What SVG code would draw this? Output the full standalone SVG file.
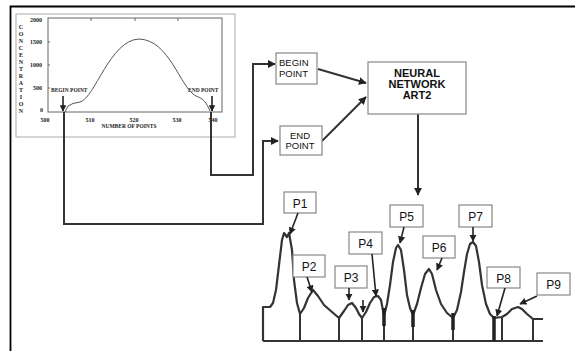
<svg xmlns="http://www.w3.org/2000/svg" width="575" height="351" viewBox="0 0 575 351">
<style>
.box{fill:#fff;stroke:#888;stroke-width:1.2}
.lbl{font-family:"Liberation Sans",Arial,sans-serif;fill:#111}
.ch{font-family:"Liberation Serif","Times New Roman",serif;font-weight:bold;fill:#222}
.con{fill:none;stroke:#333;stroke-width:2}
.pa{fill:none;stroke:#222;stroke-width:1.6}
.curve{fill:none;stroke:#333;stroke-width:2.2;stroke-linejoin:round}
</style>
<defs>
<marker id="ah" viewBox="0 0 10 10" refX="9" refY="5" markerWidth="4" markerHeight="4" orient="auto" markerUnits="strokeWidth">
<path d="M0,0 L10,5 L0,10 z" fill="#222"/>
</marker>
<marker id="ahs" viewBox="0 0 10 10" refX="9" refY="5" markerWidth="4.5" markerHeight="4.5" orient="auto" markerUnits="strokeWidth">
<path d="M0,0 L10,5 L0,10 z" fill="#222"/>
</marker>
</defs>
<rect width="575" height="351" fill="#fff"/>
<path d="M10.5,351 V6.5 H575" fill="none" stroke="#000" stroke-width="1.8"/>

<g id="chart">
<rect x="16" y="14" width="219" height="123" fill="none" stroke="#aaa" stroke-width="1"/>
<rect x="48" y="18" width="174" height="94" fill="none" stroke="#666" stroke-width="1"/>
<path d="M91,18v3M135,18v3M178,18v3M48,42h2M48,65h2M48,88h2" stroke="#666" stroke-width="1"/>
<g class="ch" font-size="6" text-anchor="end">
<text x="42" y="22">2000</text>
<text x="42" y="44">1500</text>
<text x="42" y="67">1000</text>
<text x="42" y="90">500</text>
<text x="43" y="112">0</text>
</g>
<g class="ch" font-size="6" text-anchor="middle">
<text x="21" y="29">C</text><text x="21" y="36">O</text><text x="21" y="43">N</text><text x="21" y="50">C</text><text x="21" y="57">E</text><text x="21" y="64">N</text><text x="21" y="71">T</text><text x="21" y="78">R</text><text x="21" y="85">A</text><text x="21" y="92">T</text><text x="21" y="99">I</text><text x="21" y="106">O</text><text x="21" y="113">N</text>
<text x="45" y="122">500</text>
<text x="90" y="122">510</text>
<text x="134" y="122">520</text>
<text x="177" y="122">530</text>
<text x="213" y="122">540</text>
<text x="129" y="128" font-size="5.5">NUMBER OF POINTS</text>
</g>
<text class="ch" x="51" y="92" font-size="5.5">BEGIN POINT</text>
<text class="ch" x="188" y="92" font-size="5.5">END POINT</text>
<path d="M63,96 V111" class="pa" marker-end="url(#ah)" stroke-width="1.2"/>
<path d="M212,96 V111" class="pa" marker-end="url(#ah)" stroke-width="1.2"/>
<path d="M65,112 L68,106 Q72,103 80,102 C95,98 110,40 139,39 C170,40 180,88 196,96 C204,99 206,102 210,111" fill="none" stroke="#555" stroke-width="1"/>
</g>

<g id="connectors">
<path class="con" d="M64,112 V224 H263 V141 H278" marker-end="url(#ah)"/>
<path class="con" d="M211,112 V175 H253 V64 H275" marker-end="url(#ah)"/>
<path class="con" d="M318,69 L366,83" marker-end="url(#ah)"/>
<path class="con" d="M322,141 L366,97" marker-end="url(#ah)"/>
<path class="con" d="M418,114 V195" marker-end="url(#ah)"/>
</g>

<g id="begin-point">
<rect class="box" x="276" y="53" width="41" height="31"/>
<text class="lbl" x="279" y="66" font-size="9.5">BEGIN</text>
<text class="lbl" x="279" y="77" font-size="9.5">POINT</text>
</g>
<g id="end-point">
<rect class="box" x="280" y="126" width="42" height="29"/>
<text class="lbl" x="300" y="139" font-size="9.5" text-anchor="middle">END</text>
<text class="lbl" x="300" y="149" font-size="9.5" text-anchor="middle">POINT</text>
</g>
<g id="neural-network">
<rect class="box" x="368" y="62" width="98" height="52"/>
<g class="lbl" font-size="11" font-weight="bold" text-anchor="middle">
<text x="417" y="77">NEURAL</text>
<text x="417" y="88">NETWORK</text>
<text x="417" y="99">ART2</text>
</g>
</g>

<g id="peaks-graph">
<path class="curve" d="M263,341 V307 H270 L273,303 L276,290 L279,265 L282,240 L284,233 L287,237 L289,233 L292,250 L294,280 L297,303 L300,314 L304,308 L308,298 L313,290 L318,296 L324,305 L332,312 L339,318 L344,311 L348,305 L352,303 L356,308 L359,314 L362,318 L366,312 L370,303 L374,297 L378,296 L381,300 L384,316 L387,304 L390,285 L393,262 L396,248 L398,245 L401,250 L404,270 L407,295 L410,308 L413,315 L417,304 L421,288 L425,274 L429,269 L432,274 L436,290 L441,304 L447,313 L453,318 L457,310 L461,292 L464,272 L467,254 L470,244 L473,242 L476,246 L479,262 L482,285 L486,304 L490,314 L494,318 L502,317 L507,314 L512,309 L518,307 L522,309 L527,314 L533,319 H543"/>
<path d="M263,341 H543 M300,314 V341 M339,318 V341 M362,318 V341 M384,318 V341 M413,315 V341 M453,318 V341 M494,318 V341 M502,317 V341 M533,319 V341" fill="none" stroke="#333" stroke-width="2"/>
<path d="M384,308 V326 M413,310 V327 M453,313 V330 M494,316 V341" fill="none" stroke="#222" stroke-width="3.5"/>
</g>

<g id="peak-labels" class="lbl" font-size="12" text-anchor="middle">
<g id="p1"><rect class="box" x="284" y="192" width="32" height="21"/><text x="300" y="208">P1</text></g>
<g id="p2"><rect class="box" x="293" y="255" width="32" height="22"/><text x="309" y="271">P2</text></g>
<g id="p3"><rect class="box" x="335" y="266" width="32" height="22"/><text x="351" y="282">P3</text></g>
<g id="p4"><rect class="box" x="349" y="232" width="33" height="22"/><text x="365.5" y="248">P4</text></g>
<g id="p5"><rect class="box" x="390" y="205" width="33" height="22"/><text x="406.5" y="221">P5</text></g>
<g id="p6"><rect class="box" x="423" y="236" width="32" height="22"/><text x="439" y="252">P6</text></g>
<g id="p7"><rect class="box" x="459" y="205" width="33" height="22"/><text x="475.5" y="221">P7</text></g>
<g id="p8"><rect class="box" x="487" y="267" width="33" height="21"/><text x="503.5" y="283">P8</text></g>
<g id="p9"><rect class="box" x="537" y="273" width="33" height="22"/><text x="553.5" y="289">P9</text></g>
</g>

<g id="peak-arrows" class="pa">
<path d="M298,213 L290,234" marker-end="url(#ahs)"/>
<path d="M307,277 L312,292" marker-end="url(#ahs)"/>
<path d="M349,288 V300" marker-end="url(#ahs)"/>
<path d="M363,300 V312" marker-end="url(#ahs)"/>
<path d="M372,254 L376,296" marker-end="url(#ahs)"/>
<path d="M404,227 L400,243" marker-end="url(#ahs)"/>
<path d="M442,258 L437,270" marker-end="url(#ahs)"/>
<path d="M473,227 V241" marker-end="url(#ahs)"/>
<path d="M505,288 L497,316" marker-end="url(#ahs)"/>
<path d="M537,296 L520,304" marker-end="url(#ahs)"/>
</g>
</svg>
